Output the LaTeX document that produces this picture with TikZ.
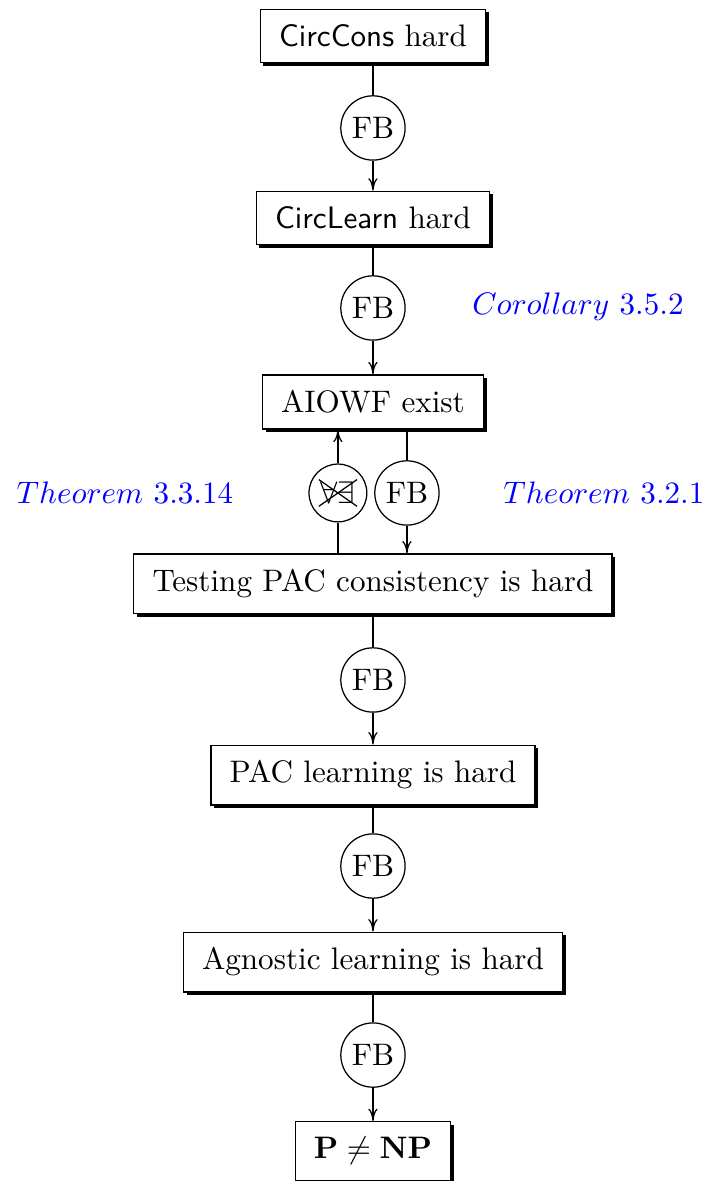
\documentclass[tikz,border=0pt]{standalone}
\usepackage{amssymb}
\usetikzlibrary{shadows,arrows.meta}
\tikzset{
  box/.style={draw, fill=white, inner xsep=6pt, inner ysep=5pt,
    drop shadow={shadow xshift=1pt, shadow yshift=-1pt, fill=black, opacity=1}},
  fb/.style={draw, circle, fill=white, inner sep=2pt},
  thm/.style={text=blue}
}
\begin{document}
\begin{tikzpicture}[x=1.085cm, y=1.085cm, >={To[length=4pt,width=3pt]}]
\useasboundingbox (-3.885,-12.302) rectangle (3.479,0);
\node[box] (cons) at (0,-0.375) {\textsf{CircCons} hard};
\node[fb] (fba) at (0,-1.333) {FB};
\node[box] (learn) at (0,-2.271) {\textsf{CircLearn} hard};
\node[fb] (fbb) at (0,-3.208) {FB};
\node[box] (owf) at (0,-4.1875) {AIOWF exist};
\node[fb, inner sep=2pt] (nofb) at (-0.365,-5.135) {$\forall\exists$};
\node[fb] (fbc) at (0.354,-5.135) {FB};
\node[box] (test) at (0,-6.083) {Testing PAC consistency is hard};
\node[fb] (fbd) at (0,-7.083) {FB};
\node[box] (pac) at (0,-8.073) {PAC learning is hard};
\node[fb] (fbe) at (0,-9.021) {FB};
\node[box] (agn) at (0,-10.021) {Agnostic learning is hard};
\node[fb] (fbf) at (0,-10.99) {FB};
\node[box] (pnp) at (0,-11.99) {$\mathbf{P}\neq\mathbf{NP}$};
% theorem labels
\node[thm] (cor) at (2.135,-3.2) {$Corollary$ 3.5.2};
\node[thm] (thma) at (-2.583,-5.135) {$Theorem$ 3.3.14};
\node[thm] (thmb) at (2.406,-5.135) {$Theorem$ 3.2.1};
% arrows
\draw (cons) -- (fba);
\draw[->] (fba) -- (learn);
\draw (learn) -- (fbb);
\draw[->] (fbb) -- (owf);
\draw[->] (nofb) -- (nofb |- owf.south);
\draw (nofb |- test.north) -- (nofb);
\draw (fbc |- owf.south) -- (fbc);
\draw[->] (fbc) -- (fbc |- test.north);
\draw[shorten <=2pt, shorten >=2pt] (nofb.145) -- (nofb.-35);
\draw[shorten <=2pt, shorten >=2pt] (nofb.35) -- (nofb.-145);
\draw (test) -- (fbd);
\draw[->] (fbd) -- (pac);
\draw (pac) -- (fbe);
\draw[->] (fbe) -- (agn);
\draw (agn) -- (fbf);
\draw[->] (fbf) -- (pnp);
\end{tikzpicture}
\end{document}
